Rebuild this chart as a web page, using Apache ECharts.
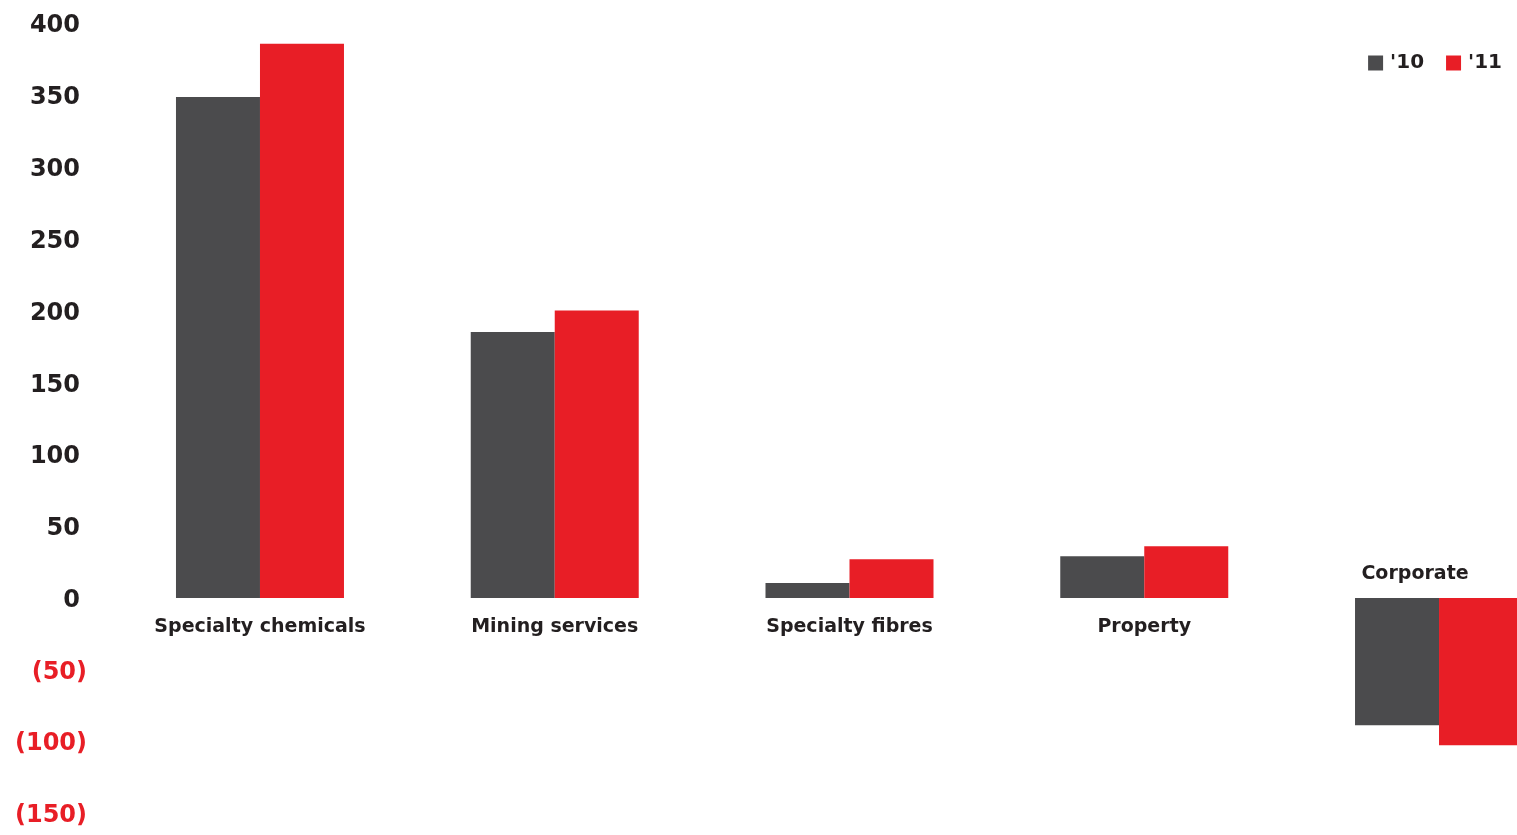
<!DOCTYPE html>
<html>
<head>
<meta charset="utf-8">
<script src="https://cdn.jsdelivr.net/npm/echarts@6/dist/echarts.min.js"></script>
<style>
  html, body { margin: 0; padding: 0; background: #fff; overflow: hidden; }
  /* the last category group runs past the right edge of the page */
  #chart { width: 1587px; height: 835px; }
</style>
</head>
<body>
<div id="chart"></div>
<script>
// Segment results by year
const categories = ['Specialty chemicals', 'Mining services', 'Specialty fibres', 'Property', 'Corporate'];
const values2010 = [348.5, 185, 10.5, 29, -88.5];
const values2011 = [385.5, 200, 27, 36, -102.5];
const seriesNames = ["'10", "'11"];
const yTicks = { min: -150, max: 400, step: 50 };

const FONT = '"DejaVu Sans", Verdana, sans-serif';
const DARK = '#4b4b4d';
const RED = '#e81e26';
const TEXT = '#231f20';
const OVERFLOW = 70; // width of the chart hidden beyond the page

const chart = echarts.init(document.getElementById('chart'));

chart.setOption({
  animation: false,
  color: [DARK, RED],
  legend: {
    data: seriesNames,
    right: 10 + OVERFLOW,
    top: 48,
    itemWidth: 15,
    itemHeight: 15,
    itemGap: 22,
    icon: 'rect',
    textStyle: { fontFamily: FONT, fontWeight: 'bold', fontSize: 20, color: TEXT, padding: [0, 0, 0, 2] }
  },
  grid: {
    left: 112.6,
    right: OVERFLOW - 69.4,
    top: 23,
    bottom: 21.4,
    containLabel: false,
    outerBoundsMode: 'none'
  },
  xAxis: {
    type: 'category',
    data: categories,
    axisLine: { show: false },
    axisTick: { show: false },
    // category names are drawn at the zero line below
    axisLabel: { show: false }
  },
  yAxis: {
    type: 'value',
    min: yTicks.min,
    max: yTicks.max,
    interval: yTicks.step,
    splitLine: { show: false },
    axisLine: { show: false },
    axisTick: { show: false },
    axisLabel: {
      margin: 25.6,
      fontFamily: FONT,
      fontWeight: 'bold',
      fontSize: 24,
      formatter: v => (v < 0 ? '{neg|(' + Math.abs(v) + ')}' : '{pos|' + v + '}'),
      rich: {
        pos: { fontFamily: FONT, fontWeight: 'bold', fontSize: 24, color: TEXT, padding: [6, 7, 0, 0] },
        neg: { fontFamily: FONT, fontWeight: 'bold', fontSize: 24, color: RED, padding: [5, 0, 0, 0] }
      }
    }
  },
  series: [
    {
      name: seriesNames[0],
      type: 'bar',
      data: values2010,
      barWidth: 84,
      barGap: '0%',
      itemStyle: { color: DARK }
    },
    {
      name: seriesNames[1],
      type: 'bar',
      data: values2011,
      barWidth: 84,
      barGap: '0%',
      itemStyle: { color: RED }
    }
  ]
});

// Category names along the zero line: below it for positive groups,
// above it (and nudged left) for the negative Corporate group
const nameLabels = categories.map(function (name, i) {
  const p = chart.convertToPixel({ xAxisIndex: 0, yAxisIndex: 0 }, [name, 0]);
  const negative = values2010[i] < 0 && values2011[i] < 0;
  return {
    type: 'text',
    x: p[0] + (negative ? -24 : 0),
    y: p[1] + (negative ? -24 : 29),
    style: {
      text: name,
      fontFamily: FONT,
      fontWeight: 'bold',
      fontSize: 19,
      fill: TEXT,
      align: 'center',
      verticalAlign: 'middle'
    }
  };
});
chart.setOption({ graphic: nameLabels });
</script>
</body>
</html>
